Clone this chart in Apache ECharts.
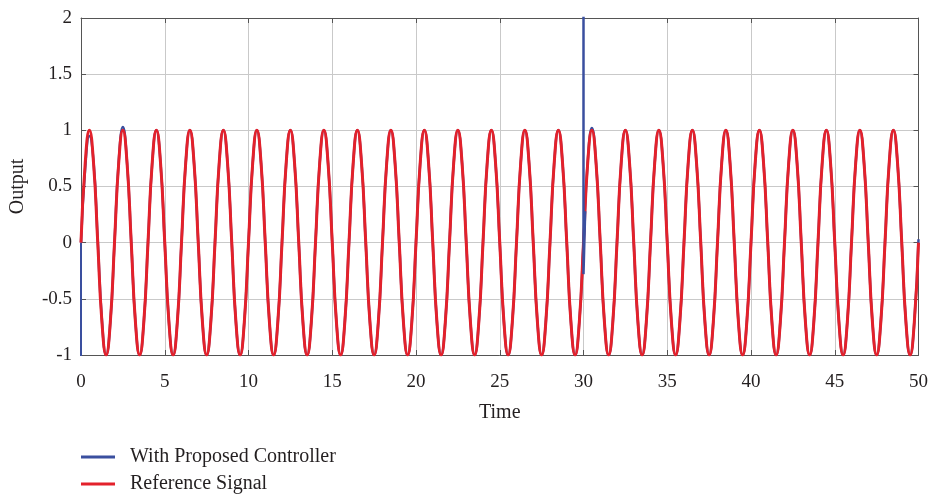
<!DOCTYPE html>
<html>
<head>
<meta charset="utf-8">
<title>Output vs Time</title>
<script src="https://cdn.jsdelivr.net/npm/echarts@6/dist/echarts.min.js"></script>
<style>
  html, body { margin: 0; padding: 0; background: #fff; }
  #chart { width: 931px; height: 495px; }
</style>
</head>
<body>
<div id="chart"></div>
<script>
// Sample times run from 0 to 50 s in quarter-second steps (201 samples)
const sampleStep = 0.25;
const sampleCount = 201;

// Reference signal, one row per 2 s period
const referenceSignal = [
  0, 0.707, 1, 0.707, 0, -0.707, -1, -0.707,
  0, 0.707, 1, 0.707, 0, -0.707, -1, -0.707,
  0, 0.707, 1, 0.707, 0, -0.707, -1, -0.707,
  0, 0.707, 1, 0.707, 0, -0.707, -1, -0.707,
  0, 0.707, 1, 0.707, 0, -0.707, -1, -0.707,
  0, 0.707, 1, 0.707, 0, -0.707, -1, -0.707,
  0, 0.707, 1, 0.707, 0, -0.707, -1, -0.707,
  0, 0.707, 1, 0.707, 0, -0.707, -1, -0.707,
  0, 0.707, 1, 0.707, 0, -0.707, -1, -0.707,
  0, 0.707, 1, 0.707, 0, -0.707, -1, -0.707,
  0, 0.707, 1, 0.707, 0, -0.707, -1, -0.707,
  0, 0.707, 1, 0.707, 0, -0.707, -1, -0.707,
  0, 0.707, 1, 0.707, 0, -0.707, -1, -0.707,
  0, 0.707, 1, 0.707, 0, -0.707, -1, -0.707,
  0, 0.707, 1, 0.707, 0, -0.707, -1, -0.707,
  0, 0.707, 1, 0.707, 0, -0.707, -1, -0.707,
  0, 0.707, 1, 0.707, 0, -0.707, -1, -0.707,
  0, 0.707, 1, 0.707, 0, -0.707, -1, -0.707,
  0, 0.707, 1, 0.707, 0, -0.707, -1, -0.707,
  0, 0.707, 1, 0.707, 0, -0.707, -1, -0.707,
  0, 0.707, 1, 0.707, 0, -0.707, -1, -0.707,
  0, 0.707, 1, 0.707, 0, -0.707, -1, -0.707,
  0, 0.707, 1, 0.707, 0, -0.707, -1, -0.707,
  0, 0.707, 1, 0.707, 0, -0.707, -1, -0.707,
  0, 0.707, 1, 0.707, 0, -0.707, -1, -0.707,
  0
];

// Closed-loop output with the proposed controller, same sampling
const controllerOutput = [
  0, 0.66, 0.95, 0.72, 0.02, -0.69, -1, -0.71,
  0, 0.72, 1.03, 0.71, 0, -0.707, -1, -0.707,
  0, 0.707, 1, 0.707, 0, -0.707, -1, -0.707,
  0, 0.707, 1, 0.707, 0, -0.707, -1, -0.707,
  0, 0.707, 1, 0.707, 0, -0.707, -1, -0.707,
  0, 0.707, 1, 0.707, 0, -0.707, -1, -0.707,
  0, 0.707, 1, 0.707, 0, -0.707, -1, -0.707,
  0, 0.707, 1, 0.707, 0, -0.707, -1, -0.707,
  0, 0.707, 1, 0.707, 0, -0.707, -1, -0.707,
  0, 0.707, 1, 0.707, 0, -0.707, -1, -0.707,
  0, 0.707, 1, 0.707, 0, -0.707, -1, -0.707,
  0, 0.707, 1, 0.707, 0, -0.707, -1, -0.707,
  0, 0.707, 1, 0.707, 0, -0.707, -1, -0.707,
  0, 0.707, 1, 0.707, 0, -0.707, -1, -0.707,
  0, 0.707, 1, 0.707, 0, -0.707, -1, -0.707,
  0, 0.72, 1.02, 0.71, 0, -0.707, -1, -0.707,
  0, 0.707, 1, 0.707, 0, -0.707, -1, -0.707,
  0, 0.707, 1, 0.707, 0, -0.707, -1, -0.707,
  0, 0.707, 1, 0.707, 0, -0.707, -1, -0.707,
  0, 0.707, 1, 0.707, 0, -0.707, -1, -0.707,
  0, 0.707, 1, 0.707, 0, -0.707, -1, -0.707,
  0, 0.707, 1, 0.707, 0, -0.707, -1, -0.707,
  0, 0.707, 1, 0.707, 0, -0.707, -1, -0.707,
  0, 0.707, 1, 0.707, 0, -0.707, -1, -0.707,
  0, 0.707, 1, 0.707, 0, -0.707, -1, -0.707,
  0.03
];

// Fast transients of the controller output: start-up and the disturbance at t = 30 s
const startTransient = [[0, 0], [0, -1.05], [0, 0]];
const disturbanceTransient = [[30, 0], [30, 2.6], [30, -0.28], [30.1, 0.28]];

const xTicks = { min: 0, max: 50, interval: 5 };
const yTicks = { min: -1, max: 2, interval: 0.5 };

const sampleTimes = [];
for (let i = 0; i < sampleCount; i++) sampleTimes.push(i * sampleStep);

const pairs = (values) => values.map((v, i) => [sampleTimes[i], v]);

const BLUE = '#3a4f9f';
const RED = '#e3212b';
const TEXT = '#231f20';
const FONT = '"Liberation Serif", "DejaVu Serif", serif';

const chart = echarts.init(document.getElementById('chart'), null, { renderer: 'canvas' });

// Top and right frame edges: tick marks only, no labels
const frameAxis = () => ({
  axisLine: { show: true, onZero: false, lineStyle: { color: '#555', width: 1 } },
  axisTick: { show: true, inside: true, length: 5, lineStyle: { color: '#555' } },
  axisLabel: { show: false },
  splitLine: { show: false }
});

chart.setOption({
  animation: false,
  backgroundColor: '#fff',
  textStyle: { fontFamily: FONT, color: TEXT },
  grid: { left: 80, right: 11, top: 18, bottom: 140, containLabel: false },
  legend: {
    orient: 'vertical',
    left: 81,
    top: 447,
    padding: 0,
    itemWidth: 34,
    itemHeight: 3,
    itemGap: 7,
    icon: 'rect',
    align: 'left',
    textStyle: { fontFamily: FONT, fontSize: 20, color: TEXT, padding: [0, 0, 0, 10] },
    data: [
      { name: 'With Proposed Controller', itemStyle: { color: BLUE } },
      { name: 'Reference Signal', itemStyle: { color: RED } }
    ]
  },
  xAxis: [
    {
      type: 'value',
      position: 'bottom',
      min: xTicks.min, max: xTicks.max, interval: xTicks.interval,
      name: 'Time',
      nameLocation: 'middle',
      nameGap: 48,
      nameTextStyle: { fontFamily: FONT, fontSize: 20, color: TEXT },
      axisLine: { show: true, onZero: false, lineStyle: { color: '#555', width: 1 } },
      axisTick: { show: true, inside: true, length: 5, lineStyle: { color: '#555' } },
      axisLabel: { fontFamily: FONT, fontSize: 19, color: TEXT, margin: 18 },
      splitLine: { show: true, lineStyle: { color: '#c9c9c9', width: 1 } }
    },
    Object.assign({ type: 'value', position: 'top', min: xTicks.min, max: xTicks.max, interval: xTicks.interval }, frameAxis())
  ],
  yAxis: [
    {
      type: 'value',
      position: 'left',
      min: yTicks.min, max: yTicks.max, interval: yTicks.interval,
      name: 'Output',
      nameLocation: 'middle',
      nameGap: 53,
      nameRotate: 90,
      nameTextStyle: { fontFamily: FONT, fontSize: 20, color: TEXT },
      axisLine: { show: true, onZero: false, lineStyle: { color: '#555', width: 1 } },
      axisTick: { show: true, inside: true, length: 5, lineStyle: { color: '#555' } },
      axisLabel: { fontFamily: FONT, fontSize: 19, color: TEXT, margin: 9 },
      splitLine: { show: true, lineStyle: { color: '#c9c9c9', width: 1 } }
    },
    Object.assign({ type: 'value', position: 'right', min: yTicks.min, max: yTicks.max, interval: yTicks.interval }, frameAxis())
  ],
  series: [
    {
      name: 'With Proposed Controller',
      type: 'line',
      data: pairs(controllerOutput),
      smooth: 0.5,
      symbol: 'none',
      clip: true,
      z: 2,
      lineStyle: { color: BLUE, width: 2.5 },
      itemStyle: { color: BLUE }
    },
    {
      name: 'Reference Signal',
      type: 'line',
      data: pairs(referenceSignal),
      smooth: 0.5,
      symbol: 'none',
      clip: true,
      z: 3,
      lineStyle: { color: RED, width: 3 },
      itemStyle: { color: RED }
    },
    {
      name: 'With Proposed Controller',
      type: 'line',
      data: startTransient,
      symbol: 'none',
      clip: true,
      z: 1,
      lineStyle: { color: BLUE, width: 2 }
    },
    {
      name: 'With Proposed Controller',
      type: 'line',
      data: disturbanceTransient,
      symbol: 'none',
      clip: true,
      z: 4,
      lineStyle: { color: BLUE, width: 2.5 }
    }
  ]
});
</script>
</body>
</html>
